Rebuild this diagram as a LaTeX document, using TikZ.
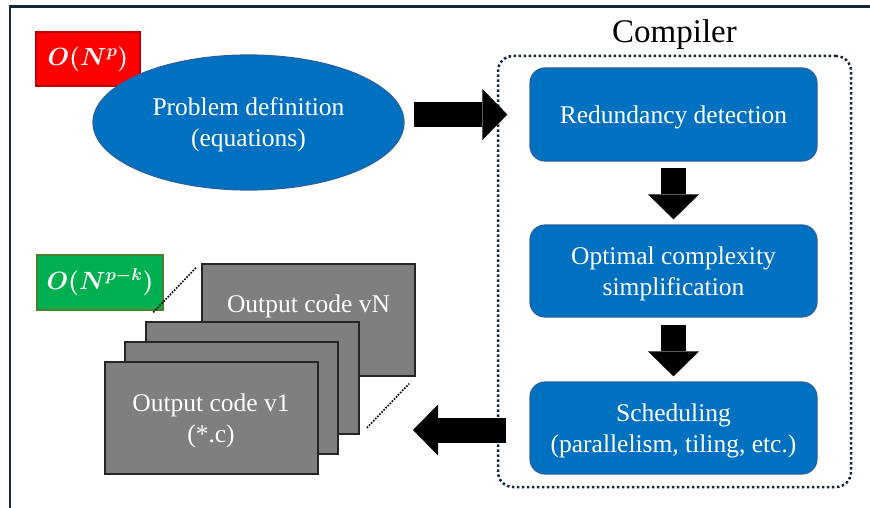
\documentclass[tikz,border=0pt]{standalone}
\usepackage{amsmath}
\usepackage{fontspec}
\setmainfont{Liberation Serif}
\usetikzlibrary{arrows.meta,calc,shapes.geometric}
\definecolor{bluefill}{HTML}{0070C0}
\definecolor{blueedge}{HTML}{2A62A0}
\definecolor{grayfill}{HTML}{7F7F7F}
\definecolor{grayedge}{HTML}{262626}
\definecolor{navy}{HTML}{13293A}
\definecolor{redfill}{HTML}{FF0000}
\definecolor{rededge}{HTML}{C00000}
\definecolor{greenfill}{HTML}{00B050}
\definecolor{greenedge}{HTML}{4A7F2C}
\begin{document}
\begin{tikzpicture}[x=1pt,y=-1pt,
  txt/.style={font=\fontsize{25.5}{31}\selectfont, text=white, align=center, text depth=0pt},
  bluebox/.style={txt, rectangle, rounded corners=15pt, fill=bluefill, draw=blueedge, line width=1.2pt, minimum width=287pt, minimum height=92pt, inner sep=0pt},
  graybox/.style={txt, rectangle, fill=grayfill, draw=grayedge, line width=2pt, minimum width=213pt, minimum height=112pt, inner sep=0pt},
  fatarrow/.style={line width=25pt, draw=black, -{Triangle[length=25pt,width=51pt,line width=0pt]}},
  badge/.style={font=\fontsize{25}{29}\selectfont, text=white, line width=1.2pt, inner sep=0pt},
  stackdots/.style={black, line width=1.6pt, dash pattern=on 1.6pt off 1.4pt},
]
\useasboundingbox (0,0) rectangle (870,508);
% frame
\draw[navy, line width=2.5pt] (10,508) -- (10,6.5) -- (870,6.5);

% badges
\node[badge, fill=redfill, draw=rededge, minimum width=104pt, minimum height=54pt] (cred) at (88,59) {$\boldsymbol{O(N^{p})}$};
\node[badge, fill=greenfill, draw=greenedge, minimum width=126pt, minimum height=55pt] (cgreen) at (100,282.5) {$\boldsymbol{O(N^{p-k})}$};

% problem
\node[ellipse, txt, fill=bluefill, draw=blueedge, line width=1.2pt, minimum width=311pt, minimum height=135pt, inner sep=0pt] (prob) at (248.5,122.5) {Problem definition\\(equations)};

% compiler
\node[draw=navy, line width=2.5pt, dash pattern=on 2.5pt off 2.5pt, rounded corners=15pt, minimum width=353pt, minimum height=431pt] (comp) at (674.5,271.5) {};
\node[anchor=base, font=\fontsize{33}{40}\selectfont, inner sep=0pt] (complbl) at ($(comp.north)+(0,-12)$) {Compiler};

\node[bluebox, minimum height=93pt] (rd) at (673.5,114.5) {Redundancy detection};
\node[bluebox] (ocs) at (673.5,271) {Optimal complexity\\simplification};
\node[bluebox] (sch) at (673.5,428) {Scheduling\\(parallelism, tiling, etc.)};

% output stack
\node[graybox] (vN) at (308.5,319.5) {Output code vN\\\phantom{(*.c)}};
\node[graybox] (g3) at (252.5,378) {};
\node[graybox] (g2) at (231.5,398) {};
\node[graybox] (v1) at (211,418) {Output code v1\\(*.c)};

\draw[stackdots, shorten <=12pt, shorten >=7pt] (g3.north west) -- (vN.north west);
\draw[stackdots, shorten <=10pt, shorten >=10pt] (g3.south east) -- (vN.south east);

% arrows
\draw[fatarrow] ($(prob.east |- rd.west)+(9,0)$) -- ($(rd.west)+(-22,0)$);
\draw[fatarrow] ($(rd.south)+(0,6)$) -- ($(ocs.north)+(0,-5)$);
\draw[fatarrow] ($(ocs.south)+(0,7)$) -- ($(sch.north)+(0,-5)$);
\draw[fatarrow] ($(sch.west)+(-23,2)$) -- ($(vN.east |- sch.west)+(-3,2)$);
\end{tikzpicture}
\end{document}
